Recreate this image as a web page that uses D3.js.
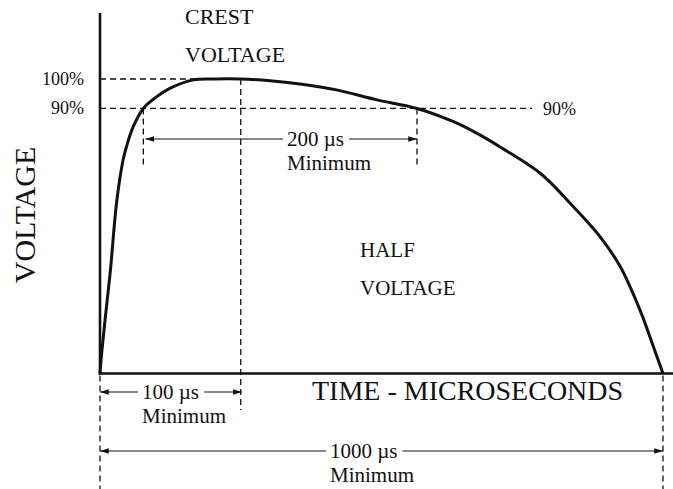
<!DOCTYPE html>
<html>
<head>
<meta charset="utf-8">
<script src="https://cdn.jsdelivr.net/npm/d3@7"></script>
<style>
  html, body { margin: 0; padding: 0; background: #fff; }
  svg { display: block; font-family: "Liberation Serif", "Times New Roman", serif; }
</style>
</head>
<body>
<svg id="chart" width="673" height="489"></svg>
<script>
// Impulse test waveform (schematic): time in µs, voltage in % of crest.
const curveTime    = [0, 3, 9, 18, 30, 41, 47, 59, 77, 101, 124, 166, 204, 249, 302, 355, 420, 492, 563, 628, 669, 710, 782, 835, 888, 924, 959, 983, 1000];
const curveVoltage = [0, 7.0, 18.2, 34.1, 58.9, 72.5, 77.0, 83.8, 90, 94.0, 96.8, 99.7, 100, 100, 99.4, 98.3, 96.3, 92.9, 90, 85.5, 81.6, 77.0, 68.0, 57.8, 46.5, 36.3, 21.6, 9.1, 0];

// Reference levels
const levelValues = [100, 90];
const levelLabels = ["100%", "90%"];

// Key instants on the time axis
const crestTime = [250];
const rise90Time = [77];
const fall90Time = [563];
const endTime = [1000];

// Dimensioned spans
const spanStarts = [77, 0, 0];
const spanEnds   = [563, 250, 1000];
const spanLabels = ["200 µs", "100 µs", "1000 µs"];
const spanNotes  = ["Minimum", "Minimum", "Minimum"];

const axisTitles = ["TIME - MICROSECONDS", "VOLTAGE"];
const crestNote = ["CREST", "VOLTAGE"];
const halfNote  = ["HALF", "VOLTAGE"];

// ---- layout ----
const W = 673, H = 489;
const svg = d3.select("#chart");
const x = d3.scaleLinear().domain([0, 1000]).range([100, 663]);
const y = d3.scaleLinear().domain([0, 100]).range([373.5, 79]);
const yAxisTop = 13;

const ink = "#111";
const dash = "6,4";

// arrowhead
svg.append("defs").append("marker")
  .attr("id", "head")
  .attr("viewBox", "0 -4 10 8")
  .attr("refX", 10).attr("refY", 0)
  .attr("markerUnits", "userSpaceOnUse")
  .attr("markerWidth", 9).attr("markerHeight", 7)
  .attr("orient", "auto")
  .append("path").attr("d", "M0,-3.2L10,0L0,3.2Z").attr("fill", ink);

// ---- dashed guides ----
const guides = svg.append("g").attr("stroke", ink).attr("stroke-width", 1.3)
  .attr("stroke-dasharray", dash).attr("fill", "none");

const right90LabelX = 543;
// horizontal level lines
guides.append("line")
  .attr("x1", x(0)).attr("x2", x(crestTime[0]))
  .attr("y1", y(levelValues[0])).attr("y2", y(levelValues[0]));
guides.append("line")
  .attr("x1", x(0)).attr("x2", right90LabelX - 11)
  .attr("y1", y(levelValues[1])).attr("y2", y(levelValues[1]));

// vertical markers
guides.append("line").attr("x1", x(crestTime[0])).attr("x2", x(crestTime[0]))
  .attr("y1", y(100)).attr("y2", 410);
guides.append("line").attr("x1", x(rise90Time[0])).attr("x2", x(rise90Time[0]))
  .attr("y1", y(90)).attr("y2", 167);
guides.append("line").attr("x1", x(fall90Time[0])).attr("x2", x(fall90Time[0]))
  .attr("y1", y(90)).attr("y2", 167);
guides.append("line").attr("x1", x(0)).attr("x2", x(0))
  .attr("y1", y(0) + 2).attr("y2", H);
guides.append("line").attr("x1", x(endTime[0])).attr("x2", x(endTime[0]))
  .attr("y1", y(0) + 2).attr("y2", H);

// ---- axes ----
svg.append("line")
  .attr("x1", x(0)).attr("x2", x(0)).attr("y1", yAxisTop).attr("y2", y(0) + 1)
  .attr("stroke", ink).attr("stroke-width", 2.6);
svg.append("line")
  .attr("x1", x(0) - 1.3).attr("x2", W).attr("y1", y(0)).attr("y2", y(0))
  .attr("stroke", ink).attr("stroke-width", 2.6);

// ---- waveform ----
const pts = curveTime.map((t, i) => [t, curveVoltage[i]]);
svg.append("path")
  .datum(pts)
  .attr("fill", "none")
  .attr("stroke", ink)
  .attr("stroke-width", 3)
  .attr("stroke-linejoin", "round")
  .attr("d", d3.line().x(d => x(d[0])).y(d => y(d[1])).curve(d3.curveCatmullRom.alpha(0.5)));

// ---- level labels ----
svg.append("g").selectAll("text").data(levelValues).join("text")
  .attr("x", 84)
  .attr("y", d => y(d) + 6)
  .attr("text-anchor", "end")
  .attr("font-size", 18)
  .attr("fill", ink)
  .text((d, i) => levelLabels[i]);
svg.append("text")
  .attr("x", right90LabelX).attr("y", y(levelValues[1]) + 7)
  .attr("font-size", 18).attr("fill", ink)
  .text(levelLabels[1]);

// ---- dimension spans ----
const spanRows = [139, 392, 451];
const spanTextX = [287, 142, 330];
spanStarts.forEach((s, i) => {
  const g = svg.append("g");
  const rowY = spanRows[i];
  const lbl = g.append("text")
    .attr("x", spanTextX[i]).attr("y", rowY + 7)
    .attr("font-size", 21).attr("fill", ink)
    .text(spanLabels[i]);
  const w = lbl.node().getComputedTextLength();
  g.append("text")
    .attr("x", spanTextX[i]).attr("y", rowY + 31)
    .attr("font-size", 21).attr("fill", ink)
    .text(spanNotes[i]);
  const x0 = x(s) + (i === 0 ? 2 : 0);
  const x1 = x(spanEnds[i]) + (i === 1 ? 1 : 0);
  g.append("line")
    .attr("x1", spanTextX[i] - 4).attr("x2", x0)
    .attr("y1", rowY).attr("y2", rowY)
    .attr("stroke", ink).attr("stroke-width", 1.2)
    .attr("marker-end", "url(#head)");
  g.append("line")
    .attr("x1", spanTextX[i] + w + 5).attr("x2", x1)
    .attr("y1", rowY).attr("y2", rowY)
    .attr("stroke", ink).attr("stroke-width", 1.2)
    .attr("marker-end", "url(#head)");
});

// ---- annotations ----
const note = (lines, x0, y0, gap, size) => {
  lines.forEach((t, i) => {
    svg.append("text").attr("x", x0).attr("y", y0 + i * gap)
      .attr("font-size", size).attr("fill", ink).text(t);
  });
};
note(crestNote, 185, 24, 38, 22);
note(halfNote, 360, 257, 38, 21);

// axis titles
svg.append("text")
  .attr("x", 312).attr("y", 400)
  .attr("font-size", 28).attr("fill", ink)
  .text(axisTitles[0]);
svg.append("text")
  .attr("transform", "translate(35,215) rotate(-90)")
  .attr("text-anchor", "middle")
  .attr("font-size", 30).attr("fill", ink)
  .text(axisTitles[1]);
</script>
</body>
</html>
